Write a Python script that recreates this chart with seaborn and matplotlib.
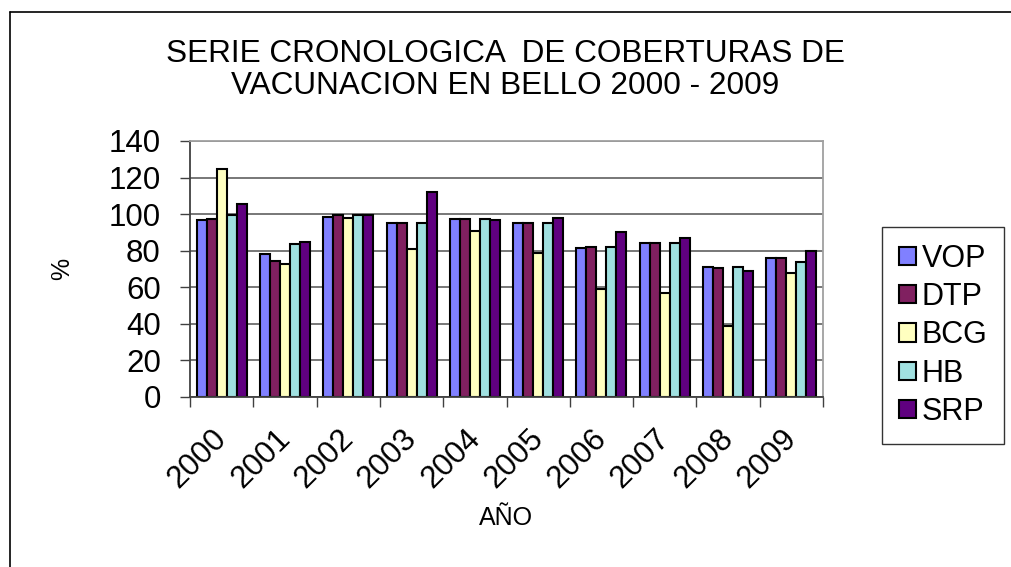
import pandas as pd
import matplotlib
matplotlib.use('Agg')
import matplotlib.pyplot as plt
import matplotlib.transforms as mtransforms
import seaborn as sns
from matplotlib.lines import Line2D

# Coverage data (%)
years = ['2000', '2001', '2002', '2003', '2004', '2005', '2006', '2007', '2008', '2009']
vop = [97, 78, 98.5, 95, 97.5, 95, 81.5, 84, 71, 76]
dtp = [97.5, 74.5, 99.5, 95, 97.5, 95, 82, 84, 70.5, 76]
bcg = [124.5, 73, 98, 81, 91, 79, 59, 57, 39, 68]
hb = [99.5, 83.5, 99.5, 95, 97.5, 95, 82, 84, 71, 74]
srp = [105.5, 85, 99.5, 112, 97, 98, 90, 87, 69, 80]
vaccines = ['VOP', 'DTP', 'BCG', 'HB', 'SRP']
colors = ['#8080FF', '#802060', '#FFFFC0', '#A0E0E0', '#600080']

series = {'VOP': vop, 'DTP': dtp, 'BCG': bcg, 'HB': hb, 'SRP': srp}
rows = []
for name, vals in series.items():
    for yr, v in zip(years, vals):
        rows.append({'year': yr, 'vacuna': name, 'valor': v})
df = pd.DataFrame(rows)

sns.set_style('white')
plt.rcParams['font.family'] = ['Liberation Sans', 'DejaVu Sans']
plt.rcParams['text.color'] = 'black'
plt.rcParams['axes.labelcolor'] = 'black'

fig = plt.figure(figsize=(10.11, 5.67), dpi=100)
ax = fig.add_axes([190 / 1011, 1 - 397 / 567, 633 / 1011, 256 / 567])

sns.barplot(data=df, x='year', y='valor', hue='vacuna', hue_order=vaccines,
            palette=colors, width=0.79, gap=0, edgecolor='black', linewidth=1.5,
            saturation=1, ax=ax, legend=True)

ax.set_ylim(0, 140)
ax.set_yticks(range(0, 141, 20))
ax.set_xlim(-0.5, len(years) - 0.5)
ax.yaxis.grid(True, color='#606060', linewidth=1.2)
ax.set_axisbelow(True)

for side in ['left', 'bottom']:
    ax.spines[side].set_color('#404040')
    ax.spines[side].set_linewidth(1.3)
for side in ['right', 'top']:
    ax.spines[side].set_color('#a0a0a0')
    ax.spines[side].set_linewidth(1.3)

ax.tick_params(axis='y', labelsize=22.5, length=7, width=1, color='#404040',
               labelcolor='black', left=True, pad=14)
ax.tick_params(axis='x', labelsize=22.5, length=0, labelcolor='black', pad=19)
# category boundary ticks on x axis
ax.set_xticks([i - 0.5 for i in range(len(years) + 1)], minor=True)
ax.tick_params(axis='x', which='minor', length=7, width=1, color='#404040', bottom=True)
shift = mtransforms.ScaledTranslation(-10 / 100, 0, fig.dpi_scale_trans)
for lbl in ax.get_xticklabels():
    lbl.set_rotation(45)
    lbl.set_ha('right')
    lbl.set_rotation_mode('anchor')
    lbl.set_transform(lbl.get_transform() + shift)

ax.set_xlabel('AÑO', fontsize=18, labelpad=9)
ax.set_ylabel('%', fontsize=18, labelpad=25)

handles, labels = ax.get_legend_handles_labels()
leg = ax.legend(handles, labels, loc='upper left',
                bbox_to_anchor=(882 / 1011, 1 - 227 / 567),
                bbox_transform=fig.transFigure, borderaxespad=0,
                fontsize=22, frameon=True, fancybox=False, shadow=False,
                handlelength=0.55, handleheight=0.55, handletextpad=0.2,
                labelspacing=0.27, borderpad=0.55)
leg.get_frame().set_edgecolor('black')
leg.get_frame().set_linewidth(1)

fig.text(0.5, 1 - 70 / 567, 'SERIE CRONOLOGICA  DE COBERTURAS DE\nVACUNACION EN BELLO 2000 - 2009',
         ha='center', va='center', fontsize=22.7, linespacing=1.05)

# outer chart border (left and top edges visible)
fig.add_artist(Line2D([10 / 1011, 10 / 1011], [0, 1 - 12 / 567], color='black',
                      linewidth=1.2, transform=fig.transFigure))
fig.add_artist(Line2D([10 / 1011, 1], [1 - 12 / 567, 1 - 12 / 567], color='black',
                      linewidth=1.2, transform=fig.transFigure))

fig.savefig('out.png', dpi=100)
